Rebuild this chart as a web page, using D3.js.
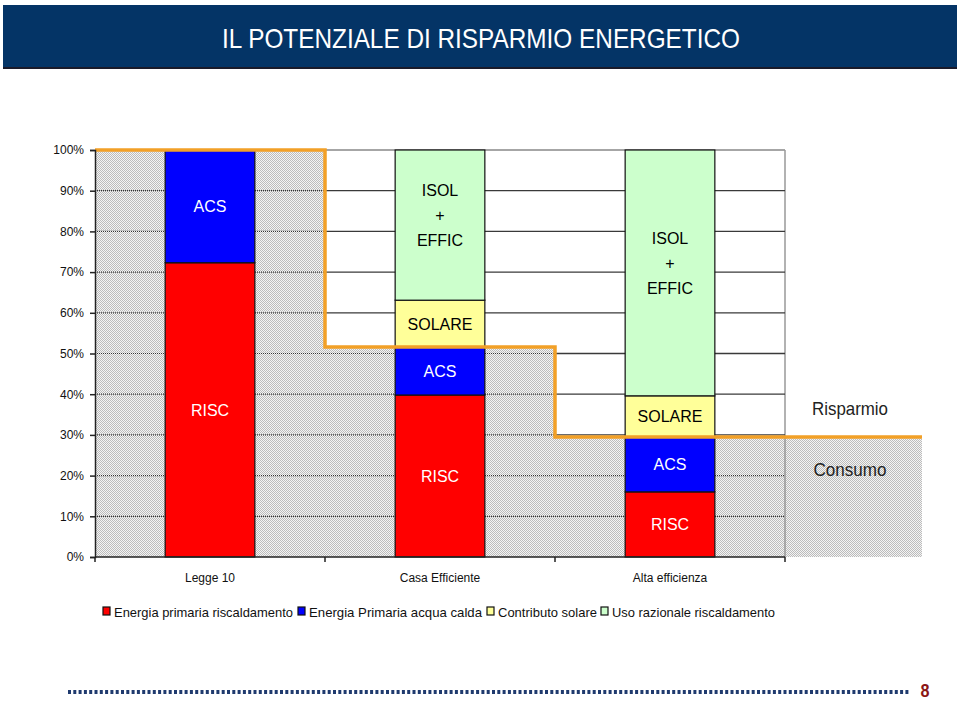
<!DOCTYPE html>
<html>
<head>
<meta charset="utf-8">
<script src="https://cdn.jsdelivr.net/npm/d3@7"></script>
<style>
  html, body { margin: 0; padding: 0; background: #fff; }
  svg { display: block; font-family: "Liberation Sans", Arial, sans-serif; }
</style>
</head>
<body>
<svg id="chart" width="960" height="702"></svg>
<script>
// ---------- data ----------
const title = "IL POTENZIALE DI RISPARMIO ENERGETICO";
const categories = ["Legge 10", "Casa Efficiente", "Alta efficienza"];
const seriesNames = ["Energia primaria riscaldamento", "Energia Primaria acqua calda", "Contributo solare", "Uso razionale riscaldamento"];
const seriesColors = ["#ff0000", "#0000ff", "#ffff99", "#ccffcc"];
const segLabels = [["RISC"], ["ACS"], ["SOLARE"], ["ISOL", "+", "EFFIC"]];
const labelColors = ["#ffffff", "#ffffff", "#000000", "#000000"];
const risc = [72.3, 39.8, 16.0];
const acs = [27.7, 11.8, 13.5];
const solare = [0, 11.5, 10.1];
const isol = [0, 36.9, 60.4];
const yTicks = [0, 10, 20, 30, 40, 50, 60, 70, 80, 90, 100];
const sideLabels = ["Risparmio", "Consumo"];
const pageNumber = "8";

// ---------- layout ----------
const svg = d3.select("#chart");
const plotL = 95, plotR = 785, plotT = 150, plotB = 557, extR = 922;

const x = d3.scaleBand().domain(categories).range([plotL, plotR]).padding(0);
const y = d3.scaleLinear().domain([0, 100]).range([plotB, plotT]);
const barW = x.bandwidth() * 0.39;

const valuesBySeries = [risc, acs, solare, isol];
const consumo = categories.map((c, i) => risc[i] + acs[i]);

// ---------- title bar ----------
svg.append("rect").attr("x", 3).attr("y", 6).attr("width", 954).attr("height", 63).attr("fill", "#1a1a2a");
svg.append("rect").attr("x", 3).attr("y", 5).attr("width", 954).attr("height", 62).attr("fill", "#043466");
svg.append("text").attr("x", 481).attr("y", 48).attr("text-anchor", "middle")
  .attr("fill", "#fff").attr("font-size", 28)
  .attr("textLength", 518).attr("lengthAdjust", "spacingAndGlyphs")
  .text(title);

// ---------- defs ----------
const defs = svg.append("defs");
const pat = defs.append("pattern").attr("id", "dots").attr("width", 2).attr("height", 2).attr("patternUnits", "userSpaceOnUse");
pat.append("rect").attr("width", 2).attr("height", 2).attr("fill", "#f4f4f4");
pat.append("rect").attr("x", 0).attr("y", 0).attr("width", 1).attr("height", 1).attr("fill", "#bcbcbc");
pat.append("rect").attr("x", 1).attr("y", 1).attr("width", 1).attr("height", 1).attr("fill", "#bcbcbc");

// step points (top of consumption)
const stepPts = [];
categories.forEach((c, i) => {
  const x0 = x(c), x1 = (i === categories.length - 1) ? extR : x(c) + x.bandwidth();
  stepPts.push([x0, y(consumo[i])]);
  stepPts.push([x1, y(consumo[i])]);
});
const consPoly = [[plotL, plotB], ...stepPts, [extR, plotB]];
const lowerPoly = [[plotL, plotB + 1], ...stepPts, [extR, plotB + 1]];
const upperPoly = [[plotL, plotT - 1], ...stepPts, [extR, plotT - 1]];

defs.append("clipPath").attr("id", "clipLower").append("polygon").attr("points", lowerPoly.map(p => p.join(",")).join(" "));
defs.append("clipPath").attr("id", "clipUpper").append("polygon").attr("points", upperPoly.map(p => p.join(",")).join(" "));

// ---------- backgrounds ----------
svg.append("polygon").attr("points", consPoly.map(p => p.join(",")).join(" ")).attr("fill", "url(#dots)");

// plot frame (top, right)
svg.append("line").attr("x1", plotL).attr("x2", plotR).attr("y1", plotT).attr("y2", plotT).attr("stroke", "#888").attr("stroke-width", 1.5);
svg.append("line").attr("x1", plotR).attr("x2", plotR).attr("y1", plotT).attr("y2", plotB).attr("stroke", "#999").attr("stroke-width", 1.5);

// gridlines
const gridTicks = yTicks.filter(t => t > 0 && t < 100);
const gUp = svg.append("g").attr("clip-path", "url(#clipUpper)");
gUp.selectAll("line").data(gridTicks).join("line")
  .attr("x1", plotL).attr("x2", plotR).attr("y1", d => y(d)).attr("y2", d => y(d))
  .attr("stroke", "#3a3a3a").attr("stroke-width", 1.3);
const gLo = svg.append("g").attr("clip-path", "url(#clipLower)");
gLo.selectAll("line").data(gridTicks).join("line")
  .attr("x1", plotL).attr("x2", plotR).attr("y1", d => y(d)).attr("y2", d => y(d))
  .attr("stroke", "#333").attr("stroke-width", 1.2).attr("stroke-dasharray", "1,1");

// ---------- bars ----------
const barsG = svg.append("g");
categories.forEach((c, i) => {
  let base = 0;
  valuesBySeries.forEach((vals, s) => {
    const v = vals[i];
    if (v <= 0) return;
    const y0 = y(base), y1 = y(base + v);
    const bx = x(c) + (x.bandwidth() - barW) / 2;
    barsG.append("rect").attr("x", bx).attr("y", y1).attr("width", barW).attr("height", y0 - y1)
      .attr("fill", seriesColors[s]).attr("stroke", "#111").attr("stroke-width", 1.2);
    const lines = segLabels[s];
    const mid = (y0 + y1) / 2;
    const lh = lines.length > 1 ? 25 : 0;
    const yOff = lines.length > 1 ? -10 : 0;
    lines.forEach((t, k) => {
      barsG.append("text").attr("x", x(c) + x.bandwidth() / 2)
        .attr("y", mid + yOff + (k - (lines.length - 1) / 2) * lh + 6)
        .attr("text-anchor", "middle").attr("font-size", 16)
        .attr("fill", labelColors[s]).text(t);
    });
    base += v;
  });
});

// ---------- orange step line ----------
svg.append("path").attr("d", d3.line()(stepPts)).attr("fill", "none")
  .attr("stroke", "#f2a027").attr("stroke-width", 3.5);

// ---------- axes ----------
const yAxis = d3.axisLeft(y).tickValues(yTicks).tickFormat(d => d + "%").tickSize(5).tickPadding(6);
const gy = svg.append("g").attr("transform", `translate(${plotL},0)`).call(yAxis);
gy.select(".domain").attr("stroke", "#222").attr("stroke-width", 1.5);
gy.selectAll(".tick line").attr("stroke", "#222").attr("stroke-width", 1.5);
gy.selectAll(".tick text").attr("font-size", 12).attr("fill", "#111").attr("font-family", "Liberation Sans, Arial, sans-serif");

const gx = svg.append("g").attr("transform", `translate(0,${plotB})`);
gx.append("line").attr("x1", plotL).attr("x2", plotR).attr("stroke", "#222").attr("stroke-width", 1.5);
const boundaries = categories.map(c => x(c)).concat([plotR]);
gx.selectAll("line.tk").data(boundaries).join("line").attr("class", "tk")
  .attr("x1", d => d).attr("x2", d => d).attr("y1", 0).attr("y2", 5).attr("stroke", "#222").attr("stroke-width", 1.5);
gx.selectAll("text").data(categories).join("text")
  .attr("x", d => x(d) + x.bandwidth() / 2).attr("y", 25).attr("text-anchor", "middle")
  .attr("font-size", 12).attr("fill", "#111").text(d => d);

// ---------- side labels ----------
svg.append("text").attr("x", 850).attr("y", 415).attr("text-anchor", "middle").attr("font-size", 19)
  .attr("textLength", 76).attr("lengthAdjust", "spacingAndGlyphs").attr("fill", "#222").text(sideLabels[0]);
svg.append("text").attr("x", 850).attr("y", 476).attr("text-anchor", "middle").attr("font-size", 19)
  .attr("textLength", 73).attr("lengthAdjust", "spacingAndGlyphs").attr("fill", "#222").text(sideLabels[1]);

// ---------- legend ----------
const legX = [103, 298, 487, 601];
const legW = [179, 173, 99, 163];
const lg = svg.append("g");
seriesNames.forEach((n, i) => {
  lg.append("rect").attr("x", legX[i]).attr("y", 607).attr("width", 7).attr("height", 8)
    .attr("fill", seriesColors[i]).attr("stroke", "#111").attr("stroke-width", 1.2);
  lg.append("text").attr("x", legX[i] + 11).attr("y", 617).attr("font-size", 13.5)
    .attr("textLength", legW[i]).attr("lengthAdjust", "spacingAndGlyphs").attr("fill", "#111").text(n);
});

// ---------- footer ----------
svg.append("line").attr("x1", 68).attr("x2", 910).attr("y1", 692).attr("y2", 692)
  .attr("stroke", "#1f3a6e").attr("stroke-width", 4).attr("stroke-dasharray", "3,2.3");
svg.append("text").attr("x", 925).attr("y", 697).attr("text-anchor", "middle").attr("font-size", 18)
  .attr("font-weight", "bold").attr("fill", "#8b1515")
  .attr("textLength", 9).attr("lengthAdjust", "spacingAndGlyphs").text(pageNumber);
</script>
</body>
</html>
